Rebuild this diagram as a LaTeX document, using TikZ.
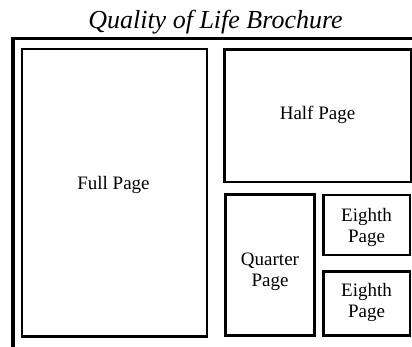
\documentclass[tikz,border=0pt]{standalone}
\usepackage{fontspec}
\setmainfont{Liberation Serif}

\begin{document}
\begin{tikzpicture}[
    x=1pt, y=-1pt,
    frame/.style={line width=3.5pt},
    pagebox/.style={draw, line width=2.5pt, inner sep=0pt},
    pagetext/.style={align=center, font=\fontsize{19}{21}\selectfont}
]

% Taille de l'image
\useasboundingbox (0,0) rectangle (412,346);
\clip (0,0) rectangle (412,346);

% Titre
\node[anchor=base, font=\itshape\fontsize{26}{30}\selectfont] (title) at (215.5,28.5) {Quality of Life Brochure};

% Cadre extérieur
\coordinate (FB) at (13,360);
\coordinate (FC) at (13,38.5);
\coordinate (FR) at (430,38.5);
\draw[frame] (FB) -- (FC) -- (FR);

% Emplacements
\draw[pagebox] (22,49) rectangle (207,336.5);
\draw[pagebox] (224.5,49.5) rectangle (411,182);
\draw[pagebox] (225.5,194.5) rectangle (314.5,335.5);
\draw[pagebox] (323.5,195) rectangle (410,255);
\draw[pagebox] (323.5,271.5) rectangle (410,335.5);

% Textes
\node[pagetext] (full) at (113.5,184.5) {Full Page};
\node[pagetext] (half) at (317.5,114.5) {Half Page};
\node[pagetext] (quarter) at (270,272) {Quarter\\Page};
\node[pagetext] (eighthA) at (366.5,227.5) {Eighth\\Page};
\node[pagetext] (eighthB) at (366.5,302.5) {Eighth\\Page};

\end{tikzpicture}
\end{document}
